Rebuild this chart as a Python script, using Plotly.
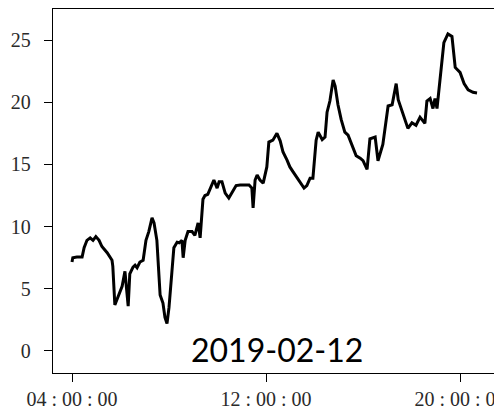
import plotly.graph_objects as go

day = "2019-02-12"

clock = [
    "04:00", "04:02", "04:12", "04:25", "04:30", "04:37", "04:45", "04:52", "04:59", "05:07",
    "05:14", "05:27", "05:39", "05:41", "05:46", "05:54", "06:04", "06:11", "06:19", "06:23",
    "06:31", "06:36", "06:41", "06:48", "06:56", "07:03", "07:10", "07:18", "07:23", "07:30",
    "07:33", "07:38", "07:45", "07:50", "07:55", "08:00", "08:07", "08:12", "08:20", "08:25",
    "08:32", "08:35", "08:40", "08:47", "08:57", "09:04", "09:12", "09:17", "09:24", "09:29",
    "09:36", "09:44", "09:51", "09:59", "10:04", "10:11", "10:19", "10:28", "10:38", "10:46",
    "10:56", "11:08", "11:18", "11:25", "11:28", "11:33", "11:38", "11:45", "11:53", "12:02",
    "12:07", "12:17", "12:27", "12:35", "12:42", "12:52", "12:59", "13:07", "13:17", "13:24",
    "13:34", "13:41", "13:49", "13:56", "14:04", "14:09", "14:19", "14:26", "14:31", "14:38",
    "14:46", "14:51", "14:58", "15:06", "15:15", "15:23", "15:35", "15:43", "15:53", "16:00",
    "16:10", "16:17", "16:30", "16:37", "16:49", "17:02", "17:12", "17:22", "17:27", "17:39",
    "17:51", "18:01", "18:11", "18:21", "18:33", "18:38", "18:46", "18:53", "18:58", "19:03",
    "19:10", "19:20", "19:30", "19:40", "19:48", "20:00", "20:10", "20:20", "20:32", "20:42",
]

values = [
    7.15, 7.5, 7.55, 7.55, 8.3, 8.9, 9.1, 8.9, 9.2, 8.9,
    8.4, 7.9, 7.3, 6.8, 3.7, 4.4, 5.2, 6.4, 3.6, 6.2,
    6.75, 6.9, 6.7, 7.15, 7.3, 8.9, 9.6, 10.7, 10.3, 8.9,
    6.8, 4.5, 3.85, 2.7, 2.2, 3.5, 6.3, 8.3, 8.75, 8.7,
    8.9, 7.5, 8.9, 9.6, 9.6, 9.3, 10.3, 9.1, 12.2, 12.5,
    12.6, 13.2, 13.75, 13.1, 13.6, 13.6, 12.7, 12.3, 12.8, 13.3,
    13.35, 13.35, 13.35, 13.1, 11.5, 13.75, 14.15, 13.75, 13.5, 14.8,
    16.8, 16.95, 17.5, 16.9, 16.0, 15.35, 14.8, 14.4, 13.9, 13.5,
    13.1, 13.3, 13.9, 13.9, 16.95, 17.6, 17.0, 17.2, 19.2, 20.1,
    21.8, 21.3, 19.8, 18.6, 17.6, 17.35, 16.3, 15.7, 15.5, 15.3,
    14.6, 17.05, 17.2, 15.3, 16.6, 19.7, 19.8, 21.5, 20.2, 19.1,
    17.9, 18.35, 18.15, 18.8, 18.3, 20.1, 20.3, 19.5, 20.3, 19.5,
    21.8, 24.8, 25.5, 25.3, 22.8, 22.4, 21.5, 21.0, 20.8, 20.75,
]

x_ticks = ["04:00", "12:00", "20:00"]
x_tick_labels = ["04 : 00 : 00", "12 : 00 : 00", "20 : 00 : 00"]
y_ticks = [0, 5, 10, 15, 20, 25]

times = [f"{day} {c}" for c in clock]

fig = go.Figure()
fig.add_trace(go.Scatter(
    x=times, y=values, mode="lines",
    line=dict(color="black", width=3),
    hoverinfo="skip", showlegend=False,
))

tick_font = dict(family="Liberation Serif", size=20, color="#2a2a2a")

fig.update_layout(
    width=494, height=411,
    margin=dict(l=53, r=0, t=9, b=38),
    paper_bgcolor="white", plot_bgcolor="white",
    xaxis=dict(
        type="date",
        range=[f"{day} 03:13", f"{day} 21:24"],
        tickvals=[f"{day} {t}" for t in x_ticks],
        ticktext=x_tick_labels,
        ticks="outside", ticklen=8, tickwidth=1.3, tickcolor="black",
        showline=True, linecolor="black", linewidth=1.3, mirror=True,
        showgrid=False, zeroline=False, automargin=False,
        tickfont=tick_font, ticklabeloverflow="allow",
    ),
    yaxis=dict(
        range=[-1.77, 27.5],
        tickvals=y_ticks,
        ticks="outside", ticklen=8, tickwidth=1.3, tickcolor="black",
        showline=True, linecolor="black", linewidth=1.3,
        showgrid=False, zeroline=False, automargin=False,
        tickfont=tick_font, ticklabelstandoff=9,
    ),
    annotations=[dict(
        text=day, xref="paper", x=0.508, yref="y", y=0.1,
        xanchor="center", yanchor="middle", showarrow=False,
        font=dict(family="Lato", size=32, color="black"),
    )],
)

fig.write_html("out.html")
